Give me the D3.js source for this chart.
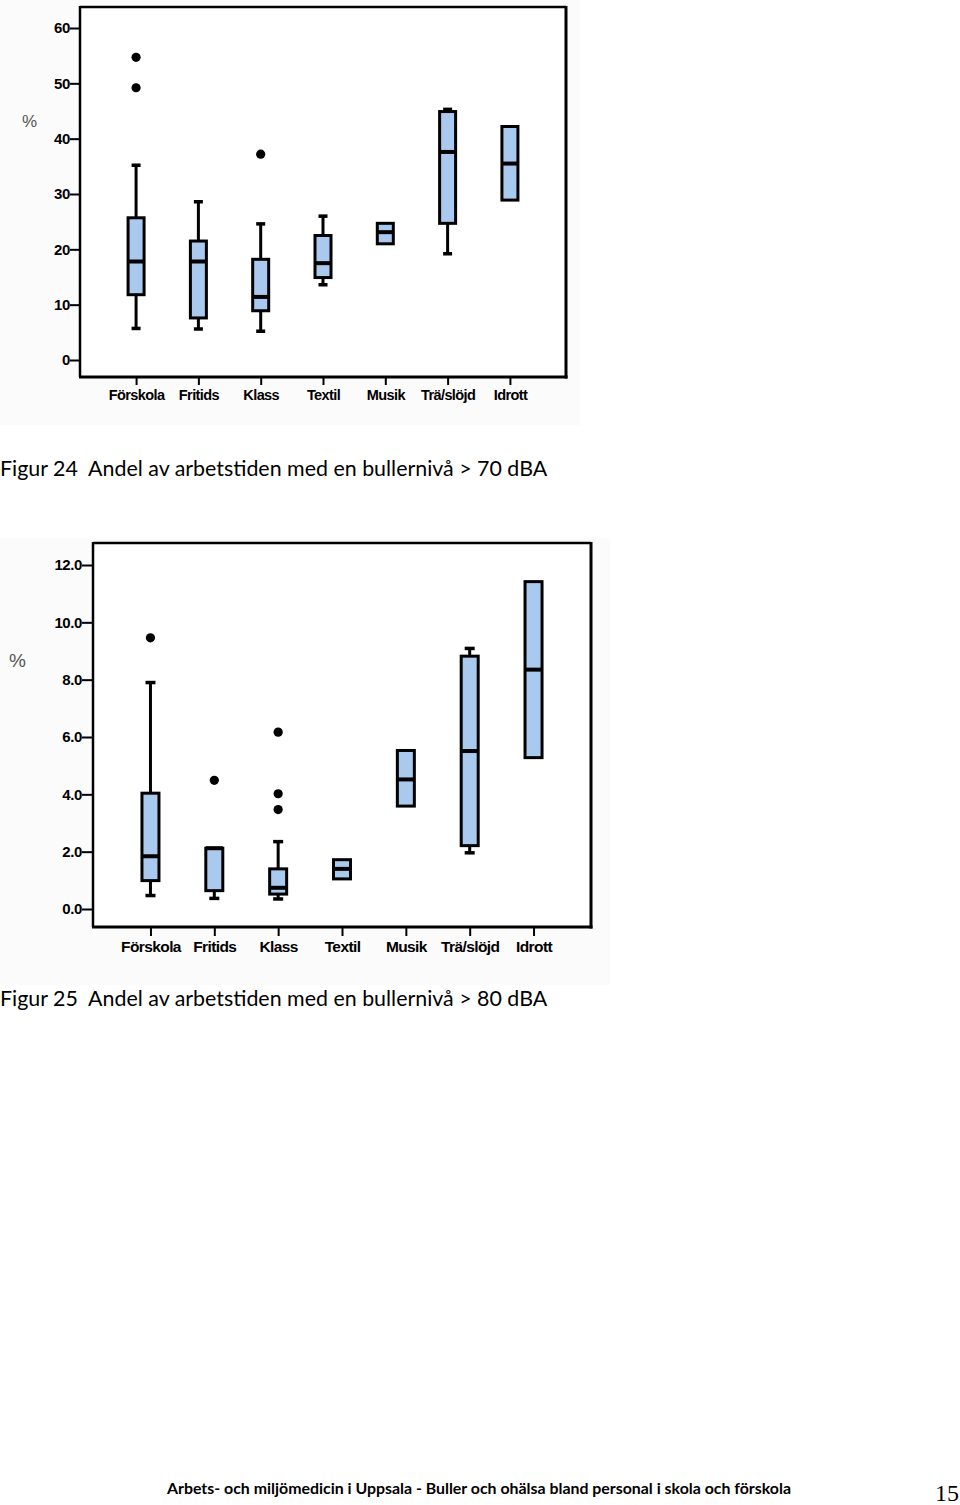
<!DOCTYPE html>
<html><head><meta charset="utf-8">
<script src="https://cdn.jsdelivr.net/npm/d3@7"></script>
<style>body{margin:0;background:#fff}svg{display:block}</style>
</head><body>
<script>
const categories = ["Förskola","Fritids","Klass","Textil","Musik","Trä/slöjd","Idrott"];

// Figur 24 (> 70 dBA), percent
const fig24Ticks = [0,10,20,30,40,50,60];
const fig24TickLabels = ["0","10","20","30","40","50","60"];
const fig24Low    = [5.7, 5.6, 5.2, 13.6, null, 19.2, null];
const fig24Q1     = [11.8, 7.6, 8.9, 14.9, 21.0, 24.7, 28.9];
const fig24Median = [17.8, 17.8, 11.4, 17.5, 23.1, 37.6, 35.5];
const fig24Q3     = [25.7, 21.5, 18.2, 22.5, 24.7, 44.9, 42.2];
const fig24High   = [35.2, 28.6, 24.6, 26.0, null, 45.3, null];
const fig24Outliers = [[54.7, 49.2], [], [37.2], [], [], [], []];

// Figur 25 (> 80 dBA), percent
const fig25Ticks = [0,2,4,6,8,10,12];
const fig25TickLabels = ["0.0","2.0","4.0","6.0","8.0","10.0","12.0"];
const fig25Low    = [0.47, 0.37, 0.35, null, null, 1.96, null];
const fig25Q1     = [0.99, 0.64, 0.52, 1.05, 3.59, 2.21, 5.28];
const fig25Median = [1.84, 2.12, 0.74, 1.40, 4.52, 5.51, 8.35];
const fig25Q3     = [4.04, 2.12, 1.40, 1.72, 5.53, 8.82, 11.42];
const fig25High   = [7.9, null, 2.35, null, null, 9.09, null];
const fig25Outliers = [[9.46], [4.49], [6.17, 4.02, 3.47], [], [], [], []];

const W = 960, H = 1505;
const svg = d3.select("body").append("svg").attr("width", W).attr("height", H);
svg.append("rect").attr("width", W).attr("height", H).attr("fill", "#fff");

const FILL = "#a9c9ef";

function drawChart(o) {
  const g = svg.append("g");
  g.append("rect").attr("x", o.bg[0]).attr("y", o.bg[1]).attr("width", o.bg[2]).attr("height", o.bg[3]).attr("fill", "#fbfbfb");
  g.append("rect").attr("x", o.fx0).attr("y", o.fy0).attr("width", o.fx1 - o.fx0).attr("height", o.fy1 - o.fy0).attr("fill", "#fff");

  const x = d3.scalePoint().domain(categories).range([o.fx0, o.fx1]).padding(0.9);
  const y = d3.scaleLinear().domain([0, o.ticks[o.ticks.length - 1]]).range([o.y0, o.yTop]);

  const yAxis = d3.axisLeft(y).tickValues(o.ticks).tickFormat((d, i) => o.tickLabels[i]).tickSize(o.yTickLen).tickPadding(0);
  const ya = g.append("g").attr("transform", `translate(${o.fx0},0)`).call(yAxis);
  ya.select(".domain").remove();
  ya.selectAll("line").attr("stroke", "#000").attr("stroke-width", 2);
  ya.selectAll("text").attr("fill", "#000").attr("font-family", "Liberation Sans, Arial, sans-serif")
    .attr("font-weight", "bold").attr("font-size", o.yFont).attr("letter-spacing", "-0.4");

  const xAxis = d3.axisBottom(x).tickSize(o.xTickLen).tickPadding(o.xPad);
  const xa = g.append("g").attr("transform", `translate(0,${o.fy1})`).call(xAxis);
  xa.select(".domain").remove();
  xa.selectAll("line").attr("stroke", "#000").attr("stroke-width", 2);
  xa.selectAll("text").attr("fill", "#000").attr("font-family", "Liberation Sans, Arial, sans-serif")
    .attr("font-weight", "bold").attr("font-size", o.xFont).attr("letter-spacing", "-0.6");

  g.append("line").attr("x1", o.fx0).attr("x2", o.fx1).attr("y1", o.fy0).attr("y2", o.fy0).attr("stroke", "#000").attr("stroke-width", 2.5);
  g.append("line").attr("x1", o.fx0).attr("x2", o.fx0).attr("y1", o.fy0 - 1).attr("y2", o.fy1).attr("stroke", "#000").attr("stroke-width", 2.5);
  g.append("line").attr("x1", o.fx1).attr("x2", o.fx1).attr("y1", o.fy0 - 1).attr("y2", o.fy1 + 1.5).attr("stroke", "#000").attr("stroke-width", 3);
  g.append("line").attr("x1", o.fx0 - 1).attr("x2", o.fx1 + 1.5).attr("y1", o.fy1).attr("y2", o.fy1).attr("stroke", "#000").attr("stroke-width", 3);

  g.append("text").attr("x", o.pct[0]).attr("y", o.pct[1]).attr("font-family", "Liberation Sans, Arial, sans-serif")
    .attr("font-size", o.pctFont).attr("fill", "#555").text("%");

  const bw = o.boxW, cw = o.capW;
  categories.forEach((c, i) => {
    const cx = x(c);
    const gg = g.append("g");
    if (o.low[i] != null) {
      gg.append("line").attr("x1", cx).attr("x2", cx).attr("y1", y(o.low[i])).attr("y2", y(o.q1[i])).attr("stroke", "#000").attr("stroke-width", 3);
      gg.append("line").attr("x1", cx - cw / 2).attr("x2", cx + cw / 2).attr("y1", y(o.low[i])).attr("y2", y(o.low[i])).attr("stroke", "#000").attr("stroke-width", 3.5);
    }
    if (o.high[i] != null) {
      gg.append("line").attr("x1", cx).attr("x2", cx).attr("y1", y(o.high[i])).attr("y2", y(o.q3[i])).attr("stroke", "#000").attr("stroke-width", 3);
      gg.append("line").attr("x1", cx - cw / 2).attr("x2", cx + cw / 2).attr("y1", y(o.high[i])).attr("y2", y(o.high[i])).attr("stroke", "#000").attr("stroke-width", 3.5);
    }
    gg.append("rect").attr("x", cx - bw / 2).attr("width", bw)
      .attr("y", y(o.q3[i])).attr("height", y(o.q1[i]) - y(o.q3[i]))
      .attr("fill", FILL).attr("stroke", "#000").attr("stroke-width", 3);
    gg.append("line").attr("x1", cx - bw / 2).attr("x2", cx + bw / 2).attr("y1", y(o.med[i])).attr("y2", y(o.med[i])).attr("stroke", "#000").attr("stroke-width", 4);
    o.out[i].forEach(v => {
      gg.append("circle").attr("cx", cx).attr("cy", y(v)).attr("r", 4.6).attr("fill", "#000");
    });
  });

  g.append("text").attr("x", 0).attr("y", o.capY).attr("font-family", "Lato, 'Open Sans', sans-serif")
    .attr("font-size", 21.4).attr("fill", "#000").attr("xml:space", "preserve").text(o.caption);
}

drawChart({
  bg: [0, 0, 580, 425],
  fx0: 80, fx1: 566, fy0: 7, fy1: 377, y0: 360, yTop: 28,
  ticks: fig24Ticks, tickLabels: fig24TickLabels,
  low: fig24Low, q1: fig24Q1, med: fig24Median, q3: fig24Q3, high: fig24High, out: fig24Outliers,
  yTickLen: 10, yFont: 15, xTickLen: 8, xPad: 5, xFont: 14.5,
  pct: [22, 127], pctFont: 17,
  boxW: 16, capW: 9,
  capY: 476, caption: "Figur 24  Andel av arbetstiden med en bullernivå > 70 dBA"
});

drawChart({
  bg: [0, 538, 610, 447],
  fx0: 93, fx1: 591, fy0: 543, fy1: 927, y0: 909, yTop: 565,
  ticks: fig25Ticks, tickLabels: fig25TickLabels,
  low: fig25Low, q1: fig25Q1, med: fig25Median, q3: fig25Q3, high: fig25High, out: fig25Outliers,
  yTickLen: 11, yFont: 15, xTickLen: 9, xPad: 5, xFont: 15.5,
  pct: [9, 667], pctFont: 19,
  boxW: 17, capW: 10,
  capY: 1006, caption: "Figur 25  Andel av arbetstiden med en bullernivå > 80 dBA"
});

svg.append("text").attr("x", 167).attr("y", 1494).attr("font-family", "Lato, 'Open Sans', sans-serif")
  .attr("font-weight", "bold").attr("font-size", 15.9).attr("fill", "#000")
  .text("Arbets- och miljömedicin i Uppsala - Buller och ohälsa bland personal i skola och förskola");
svg.append("text").attr("x", 959).attr("y", 1501).attr("text-anchor", "end").attr("font-family", "Liberation Serif, serif")
  .attr("font-size", 24).attr("fill", "#000").text("15");
</script>
</body></html>
